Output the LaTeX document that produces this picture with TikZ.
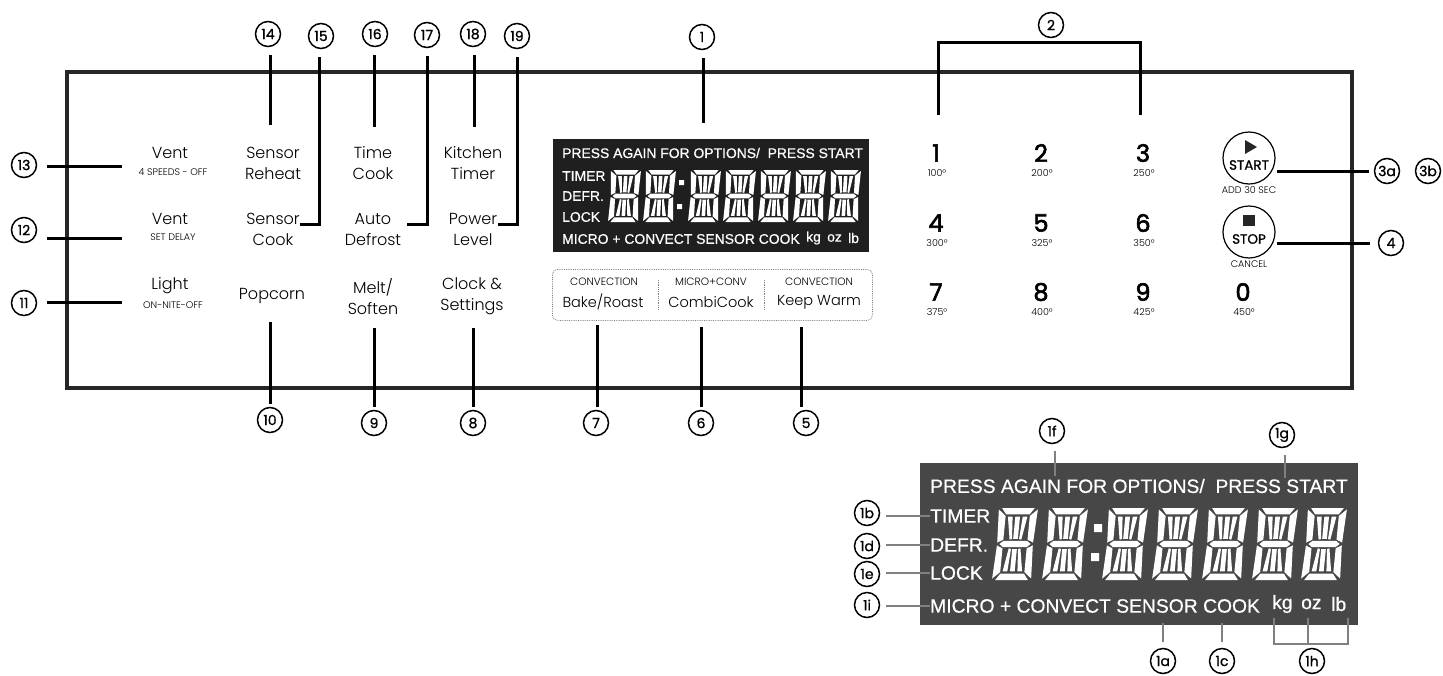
\documentclass[tikz,border=0pt]{standalone}
\usepackage{fontspec}
\setmainfont{Poppins Light}
\newfontfamily\lcdfont{Liberation Sans}[FakeBold=0.6]
\newfontfamily\keyfont{Poppins}[FakeBold=2.5]
\newfontfamily\numfont{Poppins}[FakeBold=1]
\tikzset{
  lead/.style={line width=3pt,black},
  glead/.style={line width=1.3pt,black!50},
  num/.style={circle,draw=black,line width=1.5pt,minimum size=25pt,inner sep=0pt,font=\fontsize{14}{14}\selectfont\numfont},
  lab/.style={inner sep=0pt,font=\fontsize{16}{16}\selectfont,align=center},
  tiny/.style={inner sep=0pt,font=\fontsize{9.6}{9.6}\selectfont},
  mini/.style={inner sep=0pt,font=\fontsize{10.6}{10.6}\selectfont},
  key/.style={inner sep=0pt,font=\fontsize{24}{24}\selectfont\keyfont},
  slcd/.style={inner sep=0pt,anchor=west,text=white,font=\fontsize{13.9}{13.9}\selectfont\lcdfont},
  blcd/.style={inner sep=0pt,anchor=west,text=white,font=\fontsize{19.3}{19.3}\selectfont\lcdfont},
  bigd/.style={x={(3.9pt,0pt)},y={(0.35pt,3.6pt)}},
  smalld/.style={x={(3pt,0pt)},y={(0.15pt,2.6pt)}}
}
\newcommand{\lcdigit}[3]{%
\begin{scope}[shift={(#1,#2)},#3]
\fill[white] (0.8,20)--(9.2,20)--(8,18.2)--(2,18.2)--cycle
 (0.8,0)--(9.2,0)--(8,1.8)--(2,1.8)--cycle
 (1,10)--(2,10.9)--(8,10.9)--(9,10)--(8,9.1)--(2,9.1)--cycle
 (0,19.6)--(1.9,17.8)--(1.9,11.2)--(0.4,10.4)--cycle
 (10,19.6)--(8.1,17.8)--(8.1,11.2)--(9.6,10.4)--cycle
 (0,0.4)--(1.9,2.2)--(1.9,8.8)--(0.4,9.6)--cycle
 (10,0.4)--(8.1,2.2)--(8.1,8.8)--(9.6,9.6)--cycle
 (4.4,17.6)--(5.6,17.6)--(5.6,11.4)--(4.4,11.4)--cycle
 (4.4,8.6)--(5.6,8.6)--(5.6,2.4)--(4.4,2.4)--cycle
 (2.5,17.6)--(3.7,17.6)--(4.1,11.4)--(3.5,11.2)--cycle
 (7.5,17.6)--(6.3,17.6)--(5.9,11.4)--(6.5,11.2)--cycle
 (2.5,2.4)--(3.7,2.4)--(4.1,8.6)--(3.5,8.8)--cycle
 (7.5,2.4)--(6.3,2.4)--(5.9,8.6)--(6.5,8.8)--cycle;
\end{scope}}
\begin{document}
\begin{tikzpicture}[x=1pt,y=-1pt]
\path[use as bounding box] (0,0) rectangle (1443,675);
% panel
\node[draw=black!85,line width=4pt,minimum width=1285pt,minimum height=316pt,anchor=north west,inner sep=0pt] (panel) at (65,70) {};
% small LCD
\fill[black!88] (553,139) rectangle (869,252);
\foreach \dx in {608,643,688,723,758,793,828} {\lcdigit{\dx}{222}{smalld}}
\fill[white] (679,180) rectangle (684,185) (677,204) rectangle (682,209);
\node[slcd] (s1) at (562,153) {PRESS AGAIN FOR OPTIONS/\ \ PRESS START};
\node[slcd] (s2) at (562,176) {TIMER};
\node[slcd] (s3) at (562,196) {DEFR.};
\node[slcd] (s4) at (562,217) {LOCK};
\node[slcd] (s5) at (562,239) {MICRO + CONVECT SENSOR COOK};
\node[slcd] (s6) at (806,238) {kg};
\node[slcd] (s7) at (827,238) {oz};
\node[slcd] (s8) at (848,238) {lb};
% mode box
\node[draw=black!50,densely dotted,line width=.8pt,rounded corners=5pt,minimum width=320pt,minimum height=51pt,anchor=north west,inner sep=0pt] (modebox) at (552,269) {};
\draw[black!50,densely dotted,line width=.8pt] (658,280) -- (658,309) (764,280) -- (764,309);
\node[mini] (m1a) at (604,282) {CONVECTION};
\node[lab,font=\fontsize{14.5}{14.5}\selectfont] (m1b) at (603,302) {Bake/Roast};
\node[mini] (m2a) at (711,282) {MICRO+CONV};
\node[lab,font=\fontsize{14.5}{14.5}\selectfont] (m2b) at (711,302) {CombiCook};
\node[mini] (m3a) at (819,282) {CONVECTION};
\node[lab,font=\fontsize{14.5}{14.5}\selectfont] (m3b) at (819,302) {Keep Warm};
% left labels
\node[lab] (t13) at (170,153) {Vent};
\node[tiny] (t13s) at (173,172) {4 SPEEDS - OFF};
\node[lab] (t12) at (170,219) {Vent};
\node[tiny] (t12s) at (173,237) {SET DELAY};
\node[lab] (t11) at (170,286) {Light};
\node[tiny] (t11s) at (173,305) {ON-NITE-OFF};
\node[lab] (t14) at (273,163.5) {Sensor\\[5pt]Reheat};
\node[lab] (t15) at (273,229.5) {Sensor\\[5pt]Cook};
\node[lab] (t10) at (272,296) {Popcorn};
\node[lab] (t16) at (373,163.5) {Time\\[5pt]Cook};
\node[lab] (t17) at (373,229.5) {Auto\\[5pt]Defrost};
\node[lab] (t9) at (373,296.5) {Melt/\\[5pt]Soften};
\node[lab] (t18) at (473,163.5) {Kitchen\\[5pt]Timer};
\node[lab] (t19) at (473,229.5) {Power\\[5pt]Level};
\node[lab] (t8) at (472,296.5) {Clock \&\\[5pt]Settings};
% keypad
\foreach \kname/\kx/\ky/\kt/\ksub in {k1/936/153/1/100°,k2/1041/153/2/200°,k3/1143/153/3/250°,k4/936/223/4/300°,k5/1041/223/5/325°,k6/1143/223/6/350°,k7/936/292/7/375°,k8/1041/292/8/400°,k9/1143/292/9/425°,k0/1243/292/0/450°}{
  \node[key] (\kname) at (\kx,\ky) {\kt};
  \node[tiny] (\kname s) at (\kx+1,\ky+20) {\ksub};
}
% start stop
\node[circle,draw=black,line width=1.2pt,minimum size=52pt,inner sep=0pt] (startb) at (1249,158) {};
\node[circle,draw=black,line width=1.2pt,minimum size=52pt,inner sep=0pt] (stopb) at (1249,232) {};
\fill[black!85] (1245,140) -- (1257,147) -- (1245,154) -- cycle;
\fill[black!85] (1243,215) rectangle (1255,226);
\node[inner sep=0pt,font=\fontsize{13.5}{13.5}\selectfont\numfont] (startt) at (1249,165) {START};
\node[inner sep=0pt,font=\fontsize{13.5}{13.5}\selectfont\numfont] (stopt) at (1249,239) {STOP};
\node[tiny] (adds) at (1249,190) {ADD 30 SEC};
\node[tiny] (canc) at (1249,264) {CANCEL};
% number circles
\foreach \cname/\cx/\cy/\ct in {c14/268/34/14,c15/321/36/15,c16/375/34/16,c17/427/35/17,c18/473/34/18,c19/517/36/19,c1/702/37/1,c2/1051/25/2,c13/24/165/13,c12/24/230/12,c11/24/303/11,c10/270/420/10,c9/374/423/9,c8/473/423/8,c7/596/423/7,c6/701/423/6,c5/806/423/5,c3a/1387/171/3a,c3b/1428/171/3b,c4/1391/243/4,c1f/1052/431/1f,c1g/1282/435/1g,c1b/867/513/1b,c1d/867/546/1d,c1e/867/574/1e,c1i/867/605/1i,c1a/1163/661/1a,c1c/1222/661/1c,c1h/1312/661/1h}{
  \node[num] (\cname) at (\cx,\cy) {\ct};
}
% connector ends
\coordinate (e14) at (270,125);
\coordinate (e16) at (374,127);
\coordinate (e18) at (474,127);
\coordinate (e1) at (703,123);
\coordinate (e15) at (319,224);
\coordinate (f15) at (300,224);
\coordinate (e17) at (427,224);
\coordinate (f17) at (407,224);
\coordinate (e19) at (517,224);
\coordinate (f19) at (498,224);
\coordinate (e13) at (122,166);
\coordinate (e12) at (122,238);
\coordinate (e11) at (122,302);
\coordinate (e10) at (270,322);
\coordinate (e9) at (374,328);
\coordinate (e8) at (473,328);
\coordinate (e7) at (597,325);
\coordinate (e6) at (701,327);
\coordinate (e5) at (801,327);
\coordinate (e3a) at (1277,171);
\coordinate (e4) at (1277,243);
\coordinate (b2a) at (938,115);
\coordinate (b2b) at (938,42);
\coordinate (b2c) at (1140,42);
\coordinate (b2d) at (1140,115);
% connectors
\foreach \a/\b in {c14/e14,c16/e16,c18/e18,c1/e1}{
  \draw[lead,shorten <=8pt] (\a.south -| \b) -- (\b);
}
\draw[lead,shorten <=8pt] (c15.south -| e15) -- (e15) -- (f15);
\draw[lead,shorten <=8pt] (c17.south -| e17) -- (e17) -- (f17);
\draw[lead,shorten <=8pt] (c19.south -| e19) -- (e19) -- (f19);
\foreach \a/\b in {c13/e13,c11/e11}{
  \draw[lead,shorten <=10pt] (\a.east |- \b) -- (\b);
}
\draw[lead,shorten <=10pt] (c12.east |- e12) -- (e12);
\foreach \a/\b in {c10/e10,c9/e9,c8/e8,c7/e7,c6/e6,c5/e5}{
  \draw[lead,shorten <=3pt] (\a.north -| \b) -- (\b);
}
\draw[lead,shorten >=5pt] (e3a) -- (c3a.west |- e3a);
\draw[lead,shorten >=8pt] (e4) -- (c4.west |- e4);
\draw[lead] (b2a) -- (b2b) -- (b2c) -- (b2d);
% big LCD
\fill[black!72] (920,463) rectangle (1358,625);
\foreach \dx in {992,1042,1102,1152,1202,1252,1301} {\lcdigit{\dx}{580}{bigd}}
\fill[white] (1094,524) rectangle (1102,532) (1091,553) rectangle (1099,561);
\node[blcd] (b1) at (930,486) {PRESS AGAIN FOR OPTIONS/\ \ PRESS START};
\node[blcd] (b2) at (930,516) {TIMER};
\node[blcd] (b3) at (930,545) {DEFR.};
\node[blcd] (b4) at (930,573) {LOCK};
\node[blcd] (b5) at (930,606) {MICRO + CONVECT SENSOR COOK};
\node[blcd] (b6) at (1272,604) {kg};
\node[blcd] (b7) at (1301,604) {oz};
\node[blcd] (b8) at (1331,604) {lb};
\coordinate (g1f) at (1055,476);
\coordinate (g1g) at (1285,478);
\coordinate (g1a) at (1163,642);
\coordinate (g1c) at (1222,642);
\coordinate (hl) at (1274,618);
\coordinate (hm) at (1308,618);
\coordinate (hr) at (1348,618);
\coordinate (hbl) at (1274,644);
\coordinate (hbm) at (1308,644);
\coordinate (hbr) at (1348,644);
\draw[glead,shorten <=7pt] (c1f.south -| g1f) -- (g1f);
\draw[glead,shorten <=7pt] (c1g.south -| g1g) -- (g1g);
\draw[glead] (c1a.north |- 0,623) -- (g1a);
\draw[glead] (c1c.north |- 0,623) -- (g1c);
\draw[glead] (hl) -- (hbl) -- (hbr) -- (hr);
\draw[glead] (hm) -- (hbm);
\foreach \a/\b in {c1b/b2,c1d/b3,c1e/b4,c1i/b5}{
  \draw[glead,shorten <=6pt] (\a.east |- \b) -- (\b.west);
}
\end{tikzpicture}
\end{document}
